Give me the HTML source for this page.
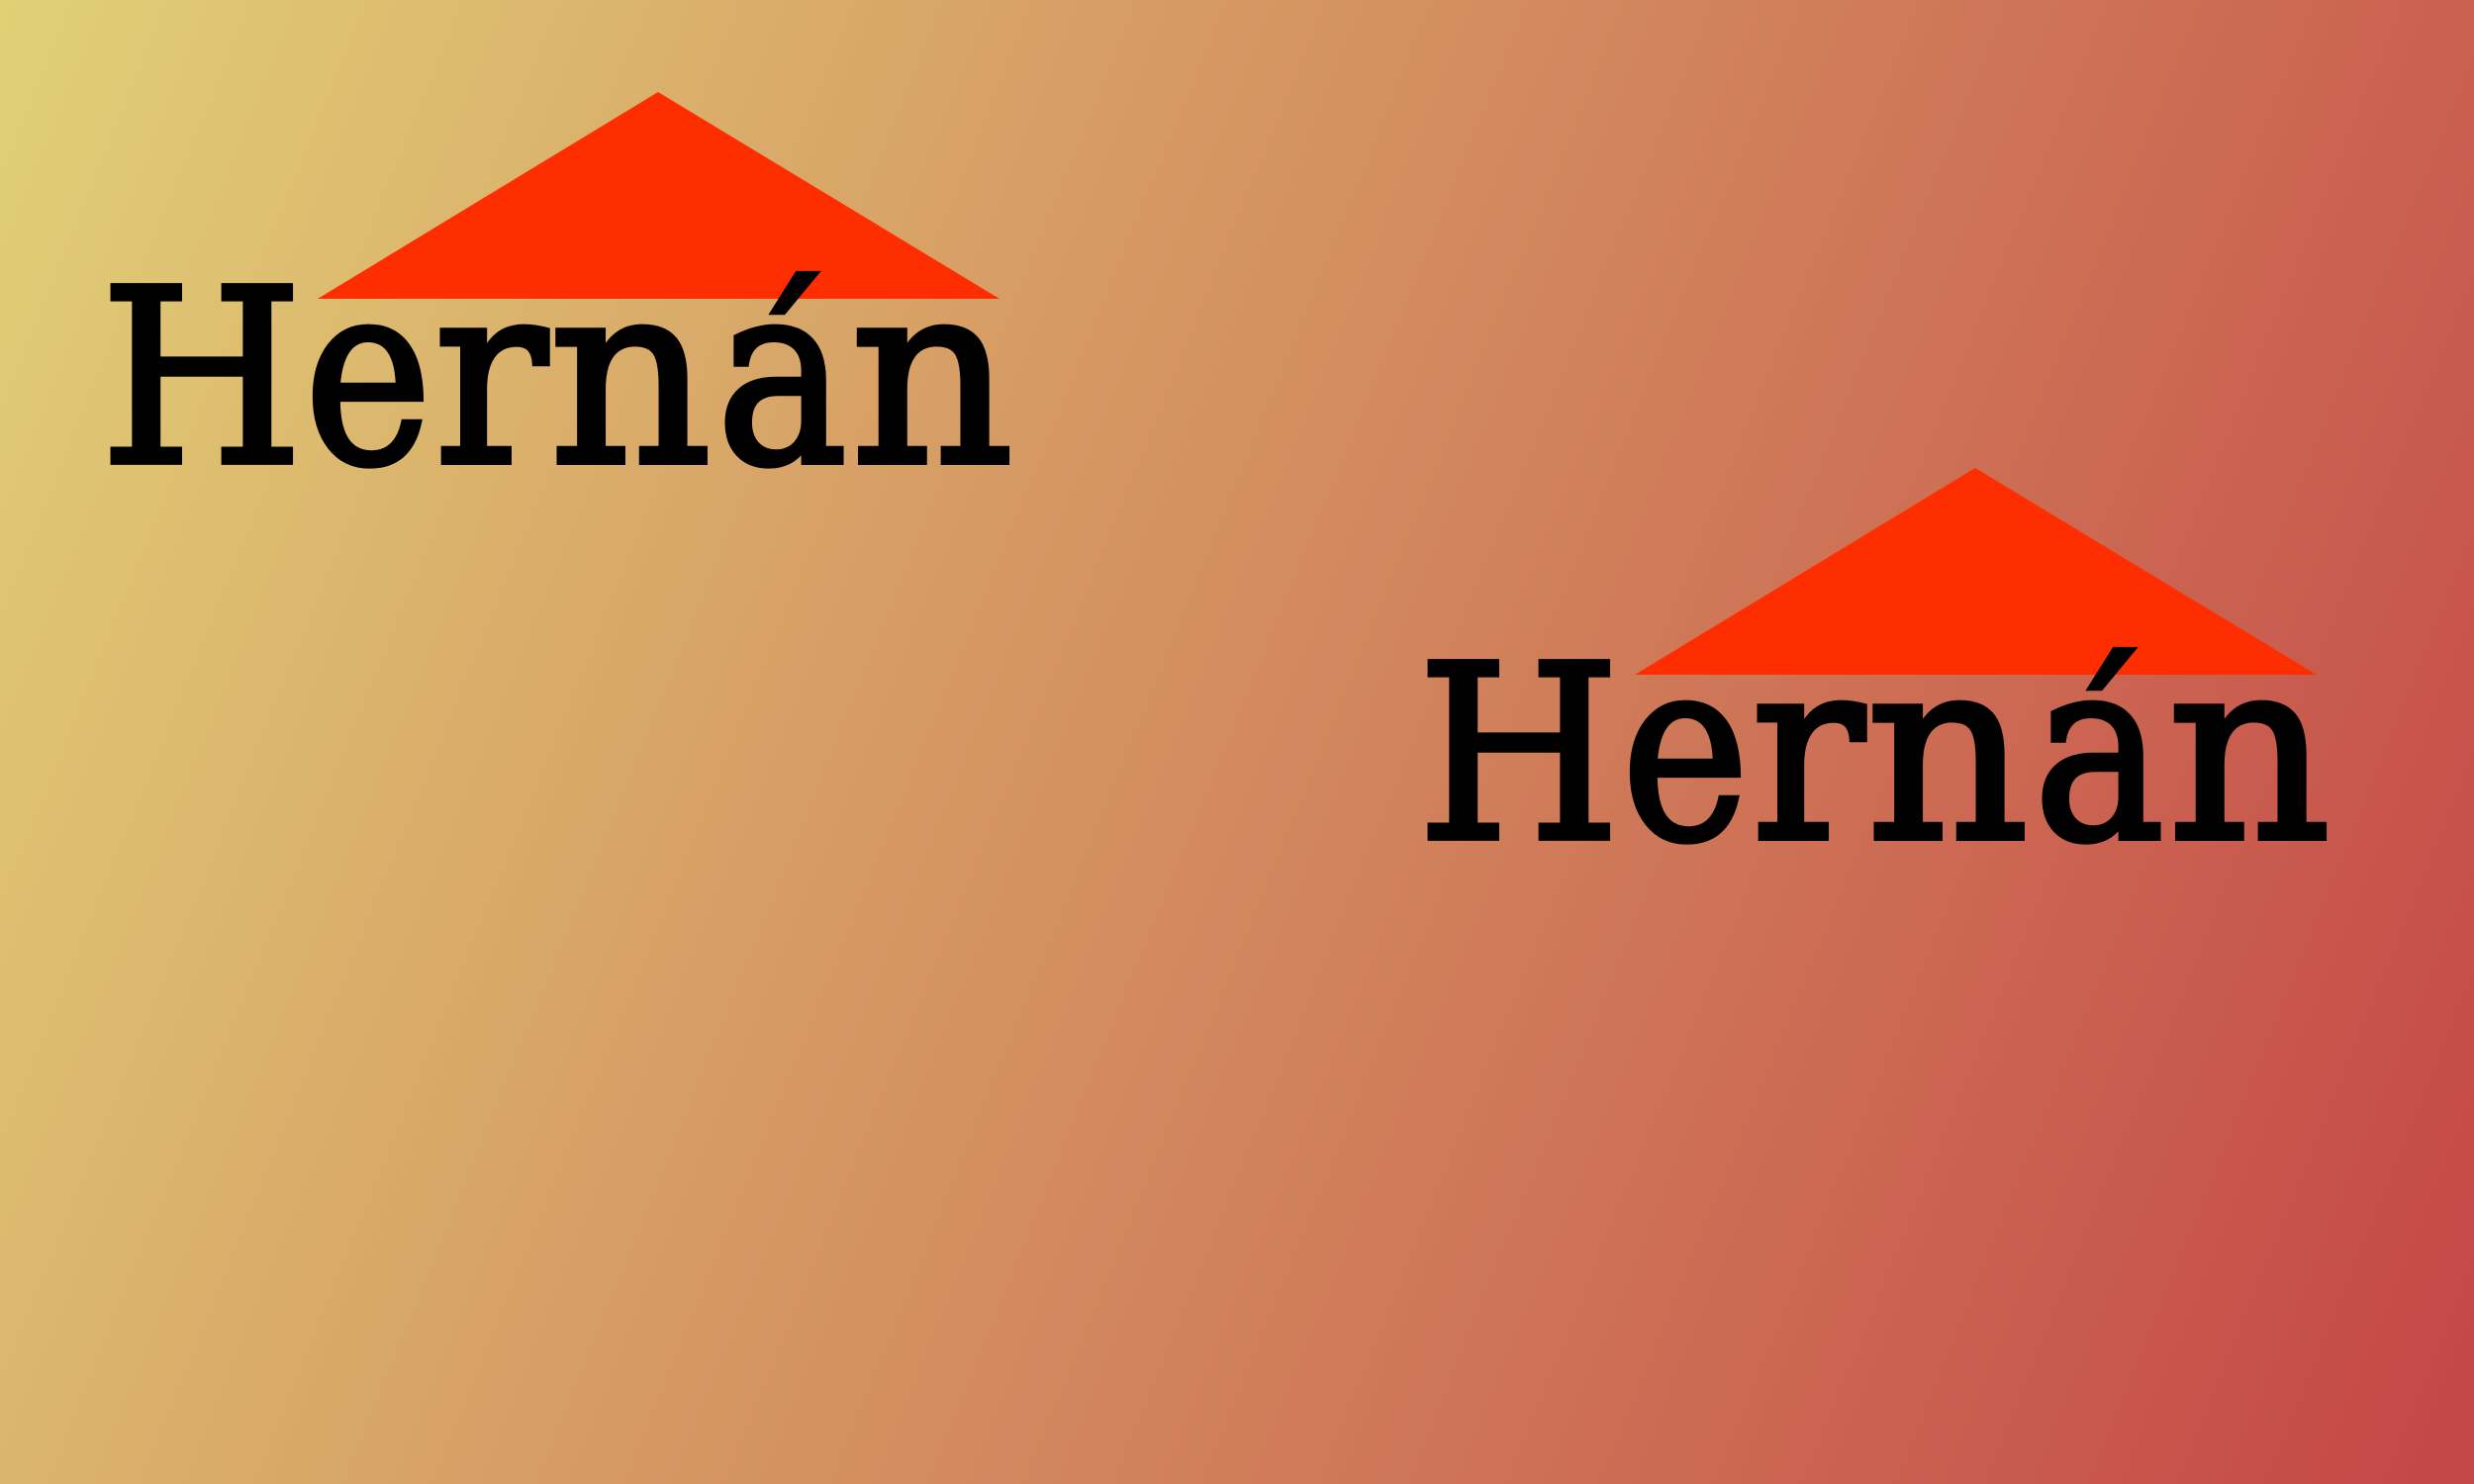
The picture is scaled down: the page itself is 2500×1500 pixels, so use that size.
<!DOCTYPE html>
<html lang="es">
<head>
<meta charset="utf-8">
<title>Hernán</title>
<style>
html,body{margin:0;padding:0;width:2500px;height:1500px;overflow:hidden;background:#d0855c}
svg{display:block}
text{font-family:"DejaVu Serif","Liberation Serif",serif;font-size:252px;fill:#000;stroke:#000;stroke-width:6px;stroke-linejoin:miter}
</style>
</head>
<body>
<svg xmlns="http://www.w3.org/2000/svg" width="2500" height="1500" viewBox="0 0 2500 1500">
<defs>
<linearGradient id="bg" gradientUnits="userSpaceOnUse" x1="0" y1="0" x2="2618" y2="1061">
<stop offset="0" stop-color="#e1d076"/>
<stop offset="1" stop-color="#c54848"/>
</linearGradient>
<clipPath id="body-clip" clipPathUnits="userSpaceOnUse"><rect x="700" y="322" width="200" height="170"/></clipPath>
</defs>
<rect x="0" y="0" width="2500" height="1500" fill="url(#bg)"/>

<g>
<polygon points="321,302 665,93 1010,302" fill="#ff2e00"/>
<g aria-label="Hernán">
<text transform="translate(101.4,467) scale(.932,.969)">H</text>
<text transform="translate(307.6,467) scale(.863,1.015)">e</text>
<text transform="translate(438.7,467) scale(.948,1.015)">r</text>
<text transform="translate(555.1,467) scale(1.01,1.015)">n</text>
<g clip-path="url(#body-clip)"><text transform="translate(724.1,467) scale(.879,1.015)">á</text></g>
<text transform="translate(743.2,447.7) scale(.778,.85)">´</text>
<text transform="translate(859.6,467) scale(1.014,1.015)">n</text>
</g>
</g>

<g transform="translate(1331,380)">
<polygon points="321,302 665,93 1010,302" fill="#ff2e00"/>
<g aria-label="Hernán">
<text transform="translate(101.4,467) scale(.932,.969)">H</text>
<text transform="translate(307.6,467) scale(.863,1.015)">e</text>
<text transform="translate(438.7,467) scale(.948,1.015)">r</text>
<text transform="translate(555.1,467) scale(1.01,1.015)">n</text>
<g clip-path="url(#body-clip)"><text transform="translate(724.1,467) scale(.879,1.015)">á</text></g>
<text transform="translate(743.2,447.7) scale(.778,.85)">´</text>
<text transform="translate(859.6,467) scale(1.014,1.015)">n</text>
</g>
</g>
</svg>
</body>
</html>
